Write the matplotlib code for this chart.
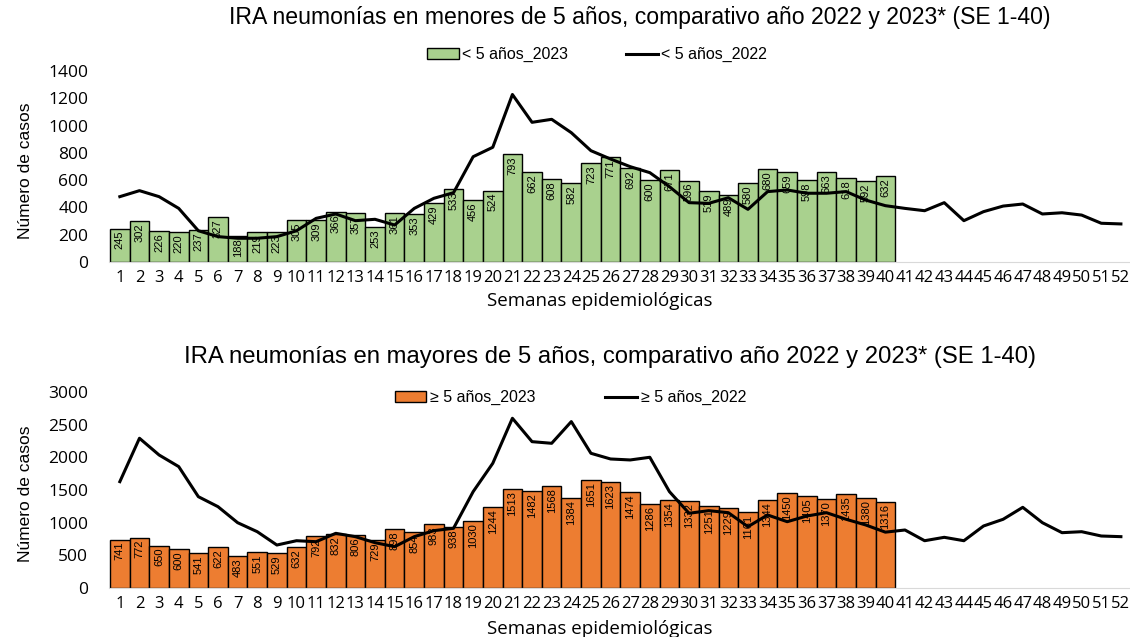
import matplotlib
matplotlib.use("Agg")
import matplotlib.pyplot as plt
import numpy as np

weeks = list(range(1, 53))
weeks_2023 = list(range(1, 41))

# menores de 5 anios
menores_2023 = [245, 302, 226, 220, 237, 327, 188, 219, 223, 305,
                309, 366, 357, 253, 361, 353, 429, 533, 456, 524,
                793, 662, 608, 582, 723, 771, 692, 600, 671, 596,
                519, 489, 580, 680, 659, 598, 663, 618, 592, 632]
menores_2022 = [479, 523, 479, 393, 229, 186, 174, 174, 186, 229,
                320, 352, 303, 313, 271, 393, 467, 508, 772, 841,
                1228, 1024, 1046, 948, 816, 755, 699, 655, 552, 435,
                430, 471, 386, 516, 528, 504, 504, 516, 454, 413,
                393, 376, 435, 303, 369, 410, 425, 352, 361, 344,
                284, 279]

# mayores de 5 anios
mayores_2023 = [741, 772, 650, 600, 541, 622, 483, 551, 529, 632,
                792, 832, 806, 729, 898, 854, 983, 938, 1030, 1244,
                1513, 1482, 1568, 1384, 1651, 1623, 1474, 1286, 1354, 1332,
                1251, 1229, 1161, 1344, 1450, 1405, 1370, 1435, 1380, 1316]
mayores_2022 = [1628, 2292, 2036, 1858, 1398, 1245, 1000, 862, 658, 724,
                709, 837, 786, 694, 633, 786, 878, 914, 1475, 1909,
                2598, 2240, 2215, 2547, 2062, 1975, 1960, 2001, 1475, 1144,
                1184, 1153, 939, 1118, 1015, 1102, 1153, 1052, 965, 855,
                888, 724, 776, 724, 949, 1052, 1235, 1000, 847, 862,
                796, 786]

titulos = ["IRA neumonías en menores de 5 años, comparativo año 2022 y 2023* (SE 1-40)",
           "IRA neumonías en mayores de 5 años, comparativo año 2022 y 2023* (SE 1-40)"]

narrow = ["Liberation Sans", "DejaVu Sans"]
wide = ["Open Sans", "DejaVu Sans"]

fig = plt.figure(figsize=(11.3, 6.37), dpi=100)

def panel(rect, bars, line, color, ymax, step, title, lab23, lab22,
          title_x, title_y, title_size, leg_x, leg_y, colsp, xlab_y):
    ax = fig.add_axes(rect)
    b = ax.bar(weeks_2023, bars, width=1.0, color=color, edgecolor="black",
               linewidth=1.0, zorder=2)
    l, = ax.plot(weeks, line, color="black", linewidth=2.2, zorder=3)
    for x, v in zip(weeks_2023, bars):
        ax.text(x, v - ymax * 0.012, str(v), rotation=90, ha="center", va="top",
                fontsize=8, family=narrow, zorder=4)
    ax.set_xlim(0.45, 52.55)
    ax.set_ylim(0, ymax)
    ax.set_yticks(np.arange(0, ymax + 1, step))
    ax.set_xticks(weeks)
    ax.set_xticklabels([str(w) for w in weeks], family=wide, fontsize=12)
    for t in ax.get_yticklabels():
        t.set_family(wide)
        t.set_fontsize(12.5)
    ax.tick_params(axis="x", length=0, pad=6)
    ax.tick_params(axis="y", length=0, pad=15)
    for s in ["top", "right", "left"]:
        ax.spines[s].set_visible(False)
    ax.spines["bottom"].set_color("#d9d9d9")
    ax.set_ylabel("Número de casos", family=narrow, fontsize=12.5)
    ax.yaxis.set_label_coords(-0.074, 0.48)
    ax.set_xlabel("Semanas epidemiológicas", family=wide, fontsize=13.5)
    ax.xaxis.set_label_coords(0.48, xlab_y)
    fig.text(title_x, title_y, title, ha="center", va="center", family=narrow,
             fontsize=title_size)
    ax.legend([b, l], [lab23, lab22], loc="center", bbox_to_anchor=(leg_x, leg_y),
              ncol=2, frameon=False, prop={"family": narrow, "size": 11.5},
              columnspacing=colsp, handlelength=2.0, handletextpad=0.2,
              borderaxespad=0)
    return ax

panel([0.0965, 0.5887, 0.905, 0.2998], menores_2023, menores_2022, "#A9D18E",
      1400, 200, titulos[0], "< 5 años_2023", "< 5 años_2022",
      0.566, 0.972, 16.6, 0.477, 1.085, 3.6, -0.155)
panel([0.0965, 0.0769, 0.905, 0.3077], mayores_2023, mayores_2022, "#ED7D31",
      3000, 500, titulos[1], "≥ 5 años_2023", "≥ 5 años_2022",
      0.540, 0.44, 17.2, 0.451, 0.97, 4.4, -0.165)

fig.savefig("out.png", dpi=100)
